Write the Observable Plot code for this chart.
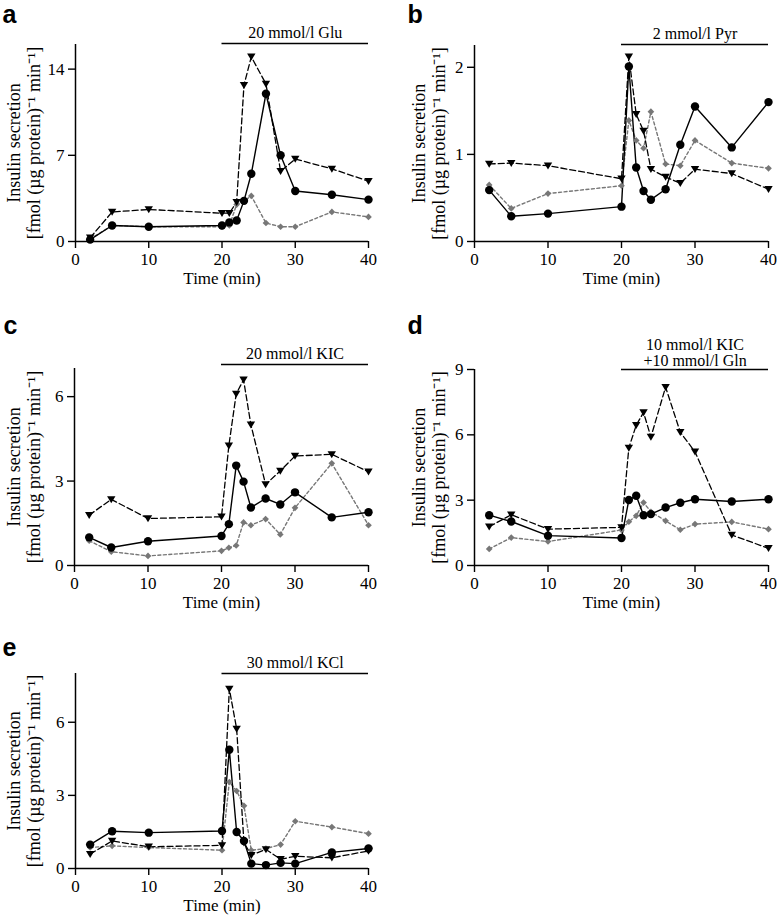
<!DOCTYPE html>
<html><head><meta charset="utf-8">
<script src="https://cdn.jsdelivr.net/npm/d3@7"></script>
<script src="https://cdn.jsdelivr.net/npm/@observablehq/plot@0.6"></script>
<style>
body{margin:0;background:#fff;}
#chart{position:relative;width:777px;height:917px;overflow:hidden;background:#fff;}
#chart svg{position:absolute;}
</style></head><body><div id="chart"></div>
<script>
// ---- data ----
const times = [2, 5, 10, 20, 21, 22, 23, 24, 26, 28, 30, 35, 40];
const panelLetters = ["a", "b", "c", "d", "e"];
const treatments = ["20 mmol/l Glu", "2 mmol/l Pyr", "20 mmol/l KIC", "10 mmol/l KIC\n+10 mmol/l Gln", "30 mmol/l KCl"];
const treatStart = 20;
const treatEnd = 40;
const xTicks = [0, 10, 20, 30, 40];
const yTicks = [[0, 7, 14], [0, 1, 2], [0, 3, 6], [0, 3, 6, 9], [0, 3, 6]];
const yMax = [16, 2.25, 7, 9, 8];
const xLabel = "Time (min)";
const yLabel = "Insulin secretion\n[fmol (µg protein)⁻¹ min⁻¹]";

const triA = [0.3, 2.4, 2.6, 2.3, 2.3, 3.2, 12.7, 15.0, 12.8, 5.7, 6.7, 5.9, 4.9];
const cirA = [0.15, 1.3, 1.2, 1.3, 1.55, 1.7, 3.3, 5.5, 12.0, 7.0, 4.1, 3.8, 3.4];
const diaA = [0.2, 1.3, 1.2, 1.2, 1.3, 3.0, 3.3, 3.7, 1.5, 1.2, 1.2, 2.4, 2.0];

const triB = [0.89, 0.90, 0.87, 0.72, 2.12, 1.46, 1.27, 0.83, 0.74, 0.67, 0.83, 0.78, 0.60];
const cirB = [0.59, 0.29, 0.32, 0.40, 2.01, 0.85, 0.58, 0.48, 0.60, 1.11, 1.55, 1.08, 1.60];
const diaB = [0.65, 0.38, 0.55, 0.64, 1.39, 1.16, 1.07, 1.49, 0.89, 0.87, 1.16, 0.90, 0.84];

const triC = [1.79, 2.35, 1.67, 1.73, 4.26, 6.1, 6.6, 5.0, 2.88, 3.36, 3.89, 3.95, 3.33];
const cirC = [1.0, 0.64, 0.86, 1.05, 1.47, 3.55, 2.98, 2.06, 2.38, 2.17, 2.6, 1.71, 1.89];
const diaC = [0.88, 0.49, 0.34, 0.52, 0.63, 0.71, 1.53, 1.43, 1.65, 1.1, 2.05, 3.63, 1.43];

const triD = [1.78, 2.33, 1.67, 1.75, 5.4, 6.44, 7.03, 5.9, 8.19, 6.12, 5.22, 1.4, 0.79];
const cirD = [2.31, 2.02, 1.37, 1.26, 3.01, 3.2, 2.31, 2.36, 2.66, 2.88, 3.04, 2.94, 3.04];
const diaD = [0.76, 1.28, 1.1, 1.63, 2.01, 2.28, 2.89, 2.47, 2.05, 1.64, 1.9, 2.0, 1.67];

const triE = [0.59, 1.13, 0.89, 0.95, 7.37, 5.73, 1.06, 0.55, 0.78, 0.38, 0.5, 0.44, 0.72];
const cirE = [0.98, 1.53, 1.47, 1.54, 4.87, 1.5, 1.13, 0.2, 0.14, 0.23, 0.2, 0.66, 0.82];
const diaE = [0.86, 0.93, 0.86, 0.75, 3.55, 3.18, 2.57, 0.75, 0.82, 0.98, 1.94, 1.7, 1.43];

const triSeries = [triA, triB, triC, triD, triE];
const cirSeries = [cirA, cirB, cirC, cirD, cirE];
const diaSeries = [diaA, diaB, diaC, diaD, diaE];

// ---- layout (pixels) ----
const layout = [
  {left: 0,   top: 0,   W: 388, H: 300, mL: 75, mR: 20, mT: 44, mB: 59, barDy: -1, letterX: 2,  letterY: 22, ylabX: 23},
  {left: 390, top: 0,   W: 387, H: 300, mL: 84, mR: 9,  mT: 45, mB: 59, barDy: -1, letterX: 17, letterY: 22, ylabX: 38},
  {left: 0,   top: 300, W: 388, H: 300, mL: 74, mR: 20, mT: 68, mB: 35, barDy: -4, letterX: 3,  letterY: 33, ylabX: 23},
  {left: 390, top: 300, W: 387, H: 300, mL: 84, mR: 9,  mT: 69, mB: 35, barDy: 0,  letterX: 17, letterY: 33, ylabX: 38},
  {left: 0,   top: 600, W: 388, H: 317, mL: 75, mR: 20, mT: 73, mB: 49, barDy: 0,  letterX: 2,  letterY: 55, ylabX: 23}
];

const triDown = {
  draw(context, size) {
    const r = Math.sqrt(size / Math.PI);
    context.moveTo(-1.05 * r, -0.8 * r);
    context.lineTo(1.05 * r, -0.8 * r);
    context.lineTo(0, 0.95 * r);
    context.closePath();
  }
};

const serif = "'Liberation Serif', 'Times New Roman', serif";
const gray = "#777";
const container = document.getElementById("chart");
const fmt = d => String(d);

panelLetters.forEach((letter, i) => {
  const L = layout[i];
  const rows = arr => times.map((t, j) => ({t, v: arr[j]}));
  const tri = rows(triSeries[i]);
  const cir = rows(cirSeries[i]);
  const dia = rows(diaSeries[i]);
  const nLines = treatments[i].split("\n").length;
  const bar = [{s: treatStart, e: treatEnd, y: yMax[i]}];
  const svg = Plot.plot({
    width: L.W,
    height: L.H,
    marginLeft: L.mL,
    marginRight: L.mR,
    marginTop: L.mT,
    marginBottom: L.mB,
    x: {domain: [0, 40]},
    y: {domain: [0, yMax[i]]},
    style: {fontFamily: serif, fontSize: "17px", background: "none", overflow: "visible", color: "#000"},
    marks: [
      Plot.axisX({ticks: xTicks, tickFormat: fmt, tickSize: 7, tickPadding: 4, label: null, fontSize: 17, strokeWidth: 1.4}),
      Plot.axisY({ticks: yTicks[i], tickFormat: fmt, tickSize: 7, tickPadding: 4, label: null, fontSize: 17, strokeWidth: 1.4}),
      Plot.ruleY([0], {strokeWidth: 1.5}),
      Plot.ruleX([0], {strokeWidth: 1.5}),
      Plot.line(dia, {x: "t", y: "v", stroke: gray, strokeWidth: 1.4, strokeDasharray: "3,2.5"}),
      Plot.line(tri, {x: "t", y: "v", stroke: "#000", strokeWidth: 1.3, strokeDasharray: "6,3"}),
      Plot.line(cir, {x: "t", y: "v", stroke: "#000", strokeWidth: 1.4}),
      Plot.dot(dia, {x: "t", y: "v", symbol: "diamond2", r: 3, fill: gray, stroke: "none"}),
      Plot.dot(tri, {x: "t", y: "v", symbol: triDown, r: 4, fill: "#000", stroke: "none"}),
      Plot.dot(cir, {x: "t", y: "v", r: 4.2, fill: "#000", stroke: "none"}),
      Plot.ruleY(bar, {x1: "s", x2: "e", y: "y", dy: L.barDy, strokeWidth: 1.5}),
      Plot.text([treatments[i]], {x: (treatStart + treatEnd) / 2, y: yMax[i], dy: L.barDy - (nLines > 1 ? 17 : 11), lineAnchor: "middle", lineHeight: 1, fontSize: 16, fill: "#000"}),
      Plot.text([xLabel], {frameAnchor: "bottom", dy: 37, lineAnchor: "middle", fontSize: 17, fill: "#000"}),
      Plot.text([yLabel], {frameAnchor: "left", rotate: -90, dx: L.ylabX - L.mL, textAnchor: "middle", lineAnchor: "middle", lineHeight: 1.15, fontSize: 18, fill: "#000"}),
      Plot.text([letter], {frameAnchor: "top-left", dx: L.letterX - L.mL, dy: L.letterY - 8 - L.mT, textAnchor: "start", lineAnchor: "middle", fontFamily: "'Liberation Sans', Arial, sans-serif", fontWeight: "bold", fontSize: 25, fill: "#000"})
    ]
  });
  svg.style.left = L.left + "px";
  svg.style.top = L.top + "px";
  container.appendChild(svg);
});
</script></body></html>
